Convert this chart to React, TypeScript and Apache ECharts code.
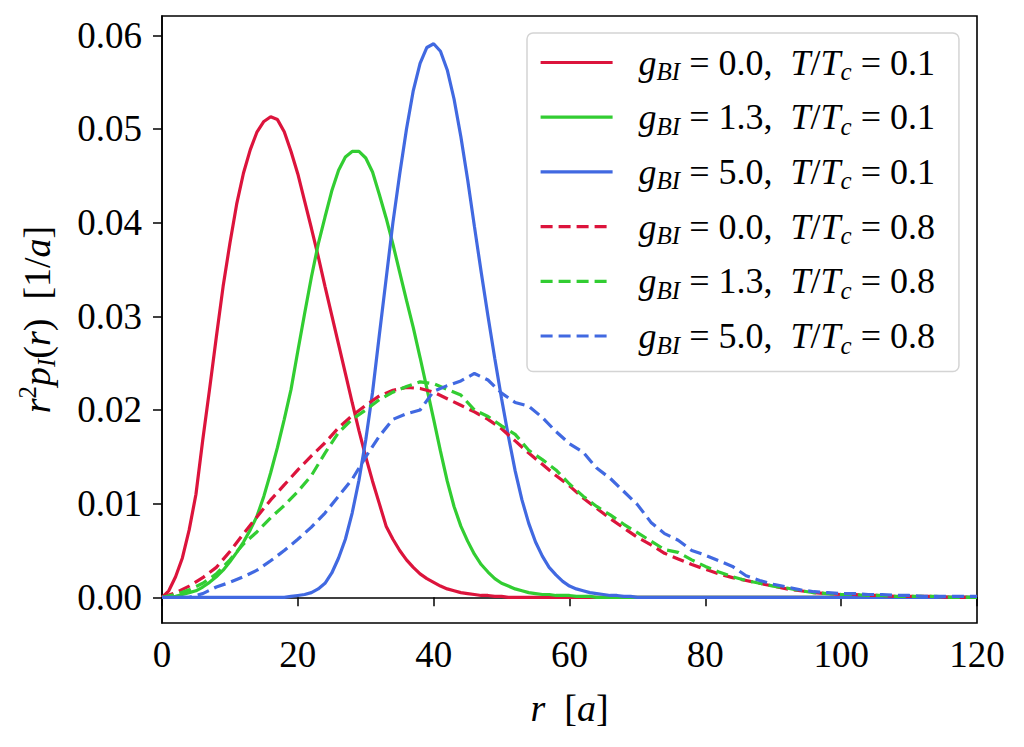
import { useEffect, useRef } from "react";
import * as echarts from "echarts";

// sample positions (r in units of a)
const rSolid = [
  0, 1, 2, 3, 4, 5, 6, 7, 8, 9, 10, 11, 12, 13, 14, 15, 16, 17, 18, 19,
  20, 21, 22, 23, 24, 25, 26, 27, 28, 29, 30, 31, 32, 33, 34, 35, 36, 37, 38, 39,
  40, 41, 42, 43, 44, 45, 46, 47, 48, 49, 50, 51, 52, 53, 54, 55, 56, 57, 58, 59,
  60, 61, 62, 63, 64, 65, 66, 67, 68, 69, 70, 80, 90, 100, 110, 120,
];
const rDashed = [
  0, 2, 4, 6, 8, 10, 12, 14, 16, 18, 20, 22, 24, 26, 28, 30, 32, 34, 36, 38,
  40, 42, 44, 46, 48, 50, 52, 54, 56, 58, 60, 62, 64, 66, 68, 70, 72, 74, 76, 78,
  80, 82, 84, 86, 88, 90, 92, 94, 96, 98, 100, 102, 104, 106, 108, 110, 112, 114, 116, 118, 120,
];

// T/Tc = 0.1
const redSolid = [
  0, 0.0007, 0.0022, 0.0042, 0.0072, 0.011, 0.0168, 0.0222, 0.0278, 0.0332,
  0.0378, 0.042, 0.0453, 0.0478, 0.0497, 0.0508, 0.0513, 0.051, 0.0497, 0.0476,
  0.0452, 0.0423, 0.0394, 0.0364, 0.0332, 0.0301, 0.027, 0.0239, 0.0208, 0.0178,
  0.015, 0.0124, 0.01, 0.0076, 0.0062, 0.005, 0.004, 0.0032, 0.0025, 0.002,
  0.0016, 0.0012, 0.0009, 0.0007, 0.0005, 0.0004, 0.0003, 0.0002, 0.0002, 0.0001,
  0.0001, 0, 0, 0, 0, 0, 0, 0, 0, 0,
  0, 0, 0, 0, 0, 0, 0, 0, 0, 0, 0, 0, 0, 0, 0, 0,
];
const greenSolid = [
  0, 0, 0.0001, 0.0003, 0.0005, 0.0007, 0.0011, 0.0016, 0.0022, 0.0029,
  0.0038, 0.0048, 0.0059, 0.0072, 0.0087, 0.0108, 0.0133, 0.016, 0.019, 0.0222,
  0.0263, 0.0303, 0.0342, 0.0377, 0.0406, 0.0434, 0.0456, 0.047, 0.0476, 0.0476,
  0.0469, 0.0454, 0.043, 0.0405, 0.0377, 0.0347, 0.0317, 0.0288, 0.0256, 0.0223,
  0.019, 0.0156, 0.0124, 0.0097, 0.0076, 0.006, 0.0046, 0.0035, 0.0027, 0.002,
  0.0015, 0.0012, 0.0009, 0.0007, 0.0005, 0.0004, 0.0003, 0.0003, 0.0002, 0.0002,
  0.0002, 0.0001, 0.0001, 0.0001, 0, 0, 0, 0, 0, 0, 0, 0, 0, 0, 0, 0,
];
const blueSolid = [
  0, 0, 0, 0, 0, 0, 0, 0, 0, 0,
  0, 0, 0, 0, 0, 0, 0, 0, 0, 0.0001,
  0.0002, 0.0003, 0.0005, 0.0009, 0.0015, 0.0026, 0.0042, 0.0062, 0.009, 0.0125,
  0.0168, 0.0219, 0.028, 0.034, 0.04, 0.0452, 0.05, 0.0541, 0.057, 0.0587,
  0.0591, 0.0583, 0.0563, 0.0532, 0.0492, 0.0446, 0.0396, 0.0347, 0.03, 0.0255,
  0.0212, 0.0172, 0.0135, 0.0104, 0.0079, 0.0059, 0.0044, 0.0032, 0.0024, 0.0017,
  0.0012, 0.0009, 0.0007, 0.0005, 0.0004, 0.0003, 0.0002, 0.0002, 0.0001, 0.0001, 0, 0, 0, 0, 0, 0,
];

// T/Tc = 0.8
const redDashed = [
  0, 0.0005, 0.0012, 0.0021, 0.0032, 0.0049, 0.0068, 0.0086, 0.0104, 0.012,
  0.0136, 0.0151, 0.0165, 0.0181, 0.0194, 0.0205, 0.0215, 0.0221, 0.0224, 0.0223,
  0.0219, 0.0212, 0.0205, 0.0198, 0.019, 0.018, 0.0167, 0.0154, 0.0142, 0.013,
  0.0119, 0.0106, 0.0095, 0.0084, 0.0074, 0.0064, 0.0056, 0.0047, 0.0041, 0.0035,
  0.003, 0.0025, 0.0021, 0.0018, 0.0015, 0.0012, 0.0009, 0.0007, 0.0005, 0.0004,
  0.0003, 0.0003, 0.0002, 0.0002, 0.0001, 0.0001, 0.0001, 0.0001, 0, 0, 0,
];
const greenDashed = [
  0, 0.0003, 0.0008, 0.0015, 0.0025, 0.004, 0.0057, 0.007, 0.0085, 0.0098,
  0.0113, 0.013, 0.0154, 0.0176, 0.019, 0.02, 0.0211, 0.0219, 0.0225, 0.023,
  0.0228, 0.0222, 0.0216, 0.02, 0.0193, 0.0183, 0.0174, 0.0157, 0.0147, 0.0136,
  0.0121, 0.0108, 0.0097, 0.0088, 0.0078, 0.0069, 0.006, 0.0051, 0.0048, 0.004,
  0.0033, 0.0027, 0.0022, 0.0018, 0.0015, 0.0012, 0.001, 0.0007, 0.0005, 0.0004,
  0.0003, 0.0003, 0.0002, 0.0002, 0.0001, 0.0001, 0.0001, 0.0001, 0, 0, 0,
];
const blueDashed = [
  0, 0, 0, 0.0004, 0.0011, 0.0016, 0.0022, 0.0029, 0.0039, 0.005,
  0.0062, 0.0075, 0.009, 0.0108, 0.0126, 0.015, 0.0172, 0.019, 0.0196, 0.02,
  0.022, 0.0226, 0.0231, 0.0239, 0.0232, 0.0218, 0.0208, 0.0204, 0.0192, 0.0177,
  0.0164, 0.0155, 0.0138, 0.0127, 0.0113, 0.0099, 0.008, 0.0068, 0.0061, 0.005,
  0.0045, 0.0039, 0.0033, 0.0023, 0.0018, 0.0014, 0.0011, 0.0008, 0.0006, 0.0005,
  0.0004, 0.0004, 0.0003, 0.0003, 0.0002, 0.0002, 0.0001, 0.0001, 0.0001, 0.0001, 0.0001,
];

const gLabels = ["0.0", "1.3", "5.0"];
const tLabels = ["0.1", "0.8"];
const colors = ["#DC143C", "#32CD32", "#4169E1"];
const xTicks = [0, 20, 40, 60, 80, 100, 120];
const yTicks = [0, 0.01, 0.02, 0.03, 0.04, 0.05, 0.06];

const FONT = "Liberation Serif";

const pairs = (xs: number[], ys: number[]) => xs.map((x, i) => [x, ys[i]]);

export default function App() {
  const chartRef = useRef<HTMLDivElement>(null);

  useEffect(() => {
    if (!chartRef.current) return;
    const chart = echarts.init(chartRef.current, null, { renderer: "svg" });

    const solid = [redSolid, greenSolid, blueSolid];
    const dashed = [redDashed, greenDashed, blueDashed];

    const names: string[] = [];
    const legendText: Record<string, string> = {};
    const series: any[] = [];

    tLabels.forEach((t, ti) => {
      gLabels.forEach((g, gi) => {
        const name = `g=${g}, T=${t}`;
        names.push(name);
        legendText[name] =
          `{it|g}{sub|BI}{n| = ${g},  }{it|T}{n|/}{it|T}{sub|c}{n| = ${t}}`;
        series.push({
          name,
          type: "line",
          data: ti === 0 ? pairs(rSolid, solid[gi]) : pairs(rDashed, dashed[gi]),
          showSymbol: false,
          symbol: "none",
          color: colors[gi],
          lineStyle: {
            color: colors[gi],
            width: 3.2,
            type: ti === 0 ? "solid" : [12, 6],
          },
        });
      });
    });

    const richBase = {
      n: { fontFamily: FONT, fontSize: 36, lineHeight: 42, color: "#000" },
      it: { fontFamily: FONT, fontSize: 36, fontStyle: "italic", lineHeight: 42, color: "#000" },
      sub: { fontFamily: FONT, fontSize: 25, fontStyle: "italic", lineHeight: 24, padding: [18, 0, 0, 0], color: "#000" },
      sup: { fontFamily: FONT, fontSize: 25, lineHeight: 24, padding: [0, 0, 20, 0], color: "#000" },
    };
    const richTitle = {
      ...richBase,
      n: { ...richBase.n, fontSize: 38 },
      it: { ...richBase.it, fontSize: 38 },
    };

    chart.setOption({
      animation: false,
      backgroundColor: "#fff",
      grid: {
        left: 162,
        right: 47,
        top: 16,
        bottom: 124,
        show: true,
        borderColor: "#000",
        borderWidth: 1.6,
        backgroundColor: "transparent",
      },
      legend: {
        data: names,
        orient: "vertical",
        left: 527,
        top: 33,
        padding: [8, 24, 14, 12],
        itemWidth: 72,
        itemHeight: 20,
        itemGap: 11.7,
        backgroundColor: "#fff",
        borderColor: "#d4d4d4",
        borderWidth: 1.5,
        borderRadius: 6,
        selectedMode: false,
        itemStyle: { opacity: 0, borderWidth: 0 },
        lineStyle: { width: 3.2 },
        formatter: (name: string) => legendText[name],
        textStyle: {
          fontFamily: FONT,
          fontSize: 36,
          color: "#000",
          padding: [0, 0, 0, 21],
          rich: richBase,
        },
      },
      xAxis: {
        type: "value",
        min: 0,
        max: 120,
        interval: 20,
        name: "{it|r}{n|  [}{it|a}{n|]}",
        nameLocation: "middle",
        nameGap: 64,
        nameTextStyle: { rich: richTitle },
        axisLine: { show: true, lineStyle: { color: "#000", width: 1.6 } },
        axisTick: { show: true, inside: false, length: 9, lineStyle: { color: "#000", width: 1.5 }, customValues: xTicks },
        axisLabel: {
          color: "#000",
          fontFamily: FONT,
          fontSize: 37,
          margin: 13,
          customValues: xTicks,
          formatter: (v: number) => String(v),
        },
        splitLine: { show: false },
      },
      yAxis: {
        type: "value",
        min: -0.00274,
        max: 0.06206,
        name: "{it|r}{sup|2}{it|p}{sub|I}{n|(}{it|r}{n|)  [1/}{it|a}{n|]}",
        nameLocation: "middle",
        nameRotate: 90,
        nameGap: 104,
        nameTextStyle: { rich: richTitle },
        axisLine: { show: true, lineStyle: { color: "#000", width: 1.6 } },
        axisTick: { show: true, inside: false, length: 9, lineStyle: { color: "#000", width: 1.5 }, customValues: yTicks },
        axisLabel: {
          color: "#000",
          fontFamily: FONT,
          fontSize: 37,
          margin: 20,
          customValues: yTicks,
          formatter: (v: number) => v.toFixed(2),
        },
        splitLine: { show: false },
      },
      series,
    });

    return () => chart.dispose();
  }, []);

  return (
    <div
      ref={chartRef}
      style={{ position: "fixed", left: 0, top: 0, width: 1024, height: 747 }}
    />
  );
}
